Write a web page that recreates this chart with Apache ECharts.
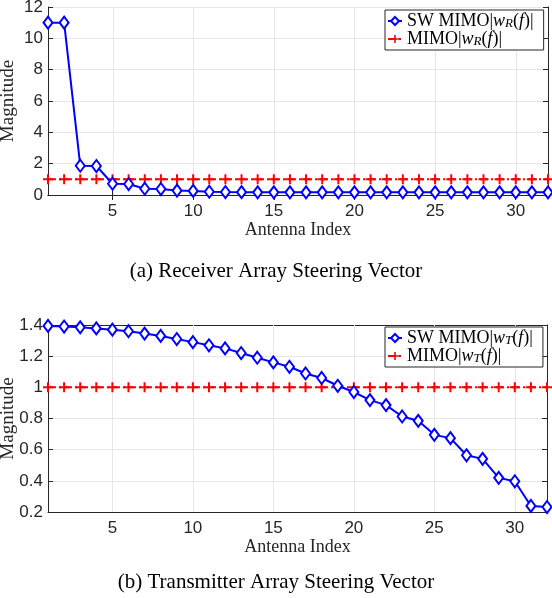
<!DOCTYPE html>
<html>
<head>
<meta charset="utf-8">
<script src="https://cdn.jsdelivr.net/npm/echarts@6/dist/echarts.min.js"></script>
<style>
html,body{margin:0;padding:0;background:#fff;}
#c{width:552px;height:598px;}
</style>
</head>
<body>
<div id="c"></div>
<script>
// ---- data ----
const antennaIndex = [1,2,3,4,5,6,7,8,9,10,11,12,13,14,15,16,17,18,19,20,21,22,23,24,25,26,27,28,29,30,31,32];
const rxSW   = [11.0,11.0,1.87,1.85,0.72,0.70,0.40,0.38,0.28,0.26,0.21,0.19,0.18,0.17,0.17,0.17,0.17,0.17,0.17,0.17,0.17,0.17,0.17,0.17,0.17,0.17,0.17,0.17,0.17,0.17,0.17,0.17];
const rxMIMO = [1,1,1,1,1,1,1,1,1,1,1,1,1,1,1,1,1,1,1,1,1,1,1,1,1,1,1,1,1,1,1,1];
const txSW   = [1.394,1.39,1.385,1.378,1.37,1.36,1.345,1.33,1.31,1.29,1.27,1.25,1.22,1.19,1.16,1.132,1.089,1.06,1.01,0.97,0.918,0.886,0.813,0.785,0.695,0.674,0.564,0.541,0.419,0.397,0.239,0.232];
const txMIMO = [1,1,1,1,1,1,1,1,1,1,1,1,1,1,1,1,1,1,1,1,1,1,1,1,1,1,1,1,1,1,1,1];
const xTicks = [5,10,15,20,25,30];
const captions = ['(a) Receiver Array Steering Vector', '(b) Transmitter Array Steering Vector'];
const names = ['SW MIMO|w_R(f)|', 'MIMO|w_R(f)|', 'SW MIMO|w_T(f)|', 'MIMO|w_T(f)|'];

const AX = '#262626';
const GRIDC = '#e6e6e6';
const SANS = 'Liberation Sans, Arial, sans-serif';
const SERIF = 'Liberation Serif, Times New Roman, serif';
const PLUS = 'path://M4,0H6V4H10V6H6V10H4V6H0V4H4Z';

function pairs(ys){ return antennaIndex.map((x,i)=>[x, ys[i]]); }

function xAxes(gi){
  return [
    { gridIndex: gi, type:'value', min:1, max:32, position:'bottom',
      axisLine:{show:true, lineStyle:{color:AX, width:1}},
      axisTick:{show:true, inside:true, length:5, customValues:xTicks, lineStyle:{color:AX}},
      axisLabel:{show:true, customValues:xTicks, color:AX, fontFamily:SANS, fontSize:17, margin:8},
      splitLine:{show:false},
      name:'Antenna Index', nameLocation:'middle', nameGap:26, nameMoveOverlap:false,
      nameTextStyle:{fontFamily:SERIF, fontSize:18, color:AX} },
    { gridIndex: gi, type:'value', min:1, max:32, position:'top',
      axisLine:{show:true, lineStyle:{color:AX, width:1}},
      axisTick:{show:true, inside:true, length:5, customValues:xTicks, lineStyle:{color:AX}},
      axisLabel:{show:false}, splitLine:{show:false} }
  ];
}
function yAxes(gi, mn, mx, iv){
  return [
    { gridIndex: gi, type:'value', min:mn, max:mx, interval:iv, position:'left',
      axisLine:{show:true, lineStyle:{color:AX, width:1}},
      axisTick:{show:true, inside:true, length:5, lineStyle:{color:AX}},
      axisLabel:{color:AX, fontFamily:SANS, fontSize:17, margin:5},
      splitLine:{show:true, lineStyle:{color:GRIDC, width:1}},
      name:'Magnitude', nameLocation:'middle', nameGap:30, nameMoveOverlap:false,
      nameTextStyle:{fontFamily:SERIF, fontSize:19, color:AX} },
    { gridIndex: gi, type:'value', min:mn, max:mx, interval:iv, position:'right',
      axisLine:{show:true, lineStyle:{color:AX, width:1}},
      axisTick:{show:true, inside:true, length:5, lineStyle:{color:AX}},
      axisLabel:{show:false}, splitLine:{show:false} }
  ];
}

function swSeries(name, xi, yi, ys){
  return { name, type:'line', xAxisIndex:xi, yAxisIndex:yi, data:pairs(ys),
    symbol:'emptyDiamond', symbolSize:[9,12], showAllSymbol:true, z:4,
    lineStyle:{color:'#0000ff', width:2},
    itemStyle:{color:'#0000ff', borderColor:'#0000ff', borderWidth:2},
    emphasis:{disabled:true} };
}
function mimoSeries(name, xi, yi, ys){
  return { name, type:'line', xAxisIndex:xi, yAxisIndex:yi, data:pairs(ys),
    symbol:PLUS, symbolSize:10, showAllSymbol:true, z:3,
    lineStyle:{color:'#ff0000', width:2, type:[8,3,2,3]},
    itemStyle:{color:'#ff0000'},
    emphasis:{disabled:true} };
}
// vertical grid lines at the x tick values
function vGrid(xi, yi, ymin, ymax){
  return { type:'custom', xAxisIndex:xi, yAxisIndex:yi, silent:true, z:1,
    data: xTicks.map(v=>[v]), encode:{x:0},
    renderItem:(params, api)=>{
      const x = api.value(0);
      const p0 = api.coord([x, ymin]);
      const p1 = api.coord([x, ymax]);
      const px = Math.round(p0[0]) + 0.5;
      return {type:'line', shape:{x1:px, y1:p0[1], x2:px, y2:p1[1]},
        style:{stroke:GRIDC, lineWidth:1}};
    } };
}

const rich = {
  i:{fontFamily:SERIF, fontSize:18, fontStyle:'italic', color:'#000', lineHeight:18},
  s:{fontFamily:SERIF, fontSize:13, fontStyle:'italic', color:'#000', lineHeight:11, verticalAlign:'bottom'},
  t:{fontFamily:SERIF, fontSize:18, color:'#000', lineHeight:18}
};
function legendFmt(name){
  const m = name.match(/^(.*)\|w_(\w)\(f\)\|$/);
  return '{t|' + m[1] + '|}{i|w}{s|' + m[2] + '}{t|(}{i|f}{t|)|}';
}
function legend(data, top){
  return { data, orient:'vertical', left:385, top, itemGap:0, itemWidth:14, itemHeight:10,
    padding:[2,10,2,2], backgroundColor:'#fff', borderColor:AX, borderWidth:1, borderRadius:0,
    selectedMode:false,
    formatter:legendFmt, textStyle:{fontFamily:SERIF, fontSize:18, color:'#000', lineHeight:18, rich} };
}

const chart = echarts.init(document.getElementById('c'), null, {renderer:'canvas'});
chart.setOption({
  animation:false,
  backgroundColor:'#fff',
  title:[
    {text:captions[0], left:'center', top:261, textStyle:{fontFamily:SERIF, fontSize:21, fontWeight:'normal', color:'#000'}, padding:0},
    {text:captions[1], left:'center', top:572, textStyle:{fontFamily:SERIF, fontSize:21, fontWeight:'normal', color:'#000'}, padding:0}
  ],
  grid:[
    {left:48, top:7, width:500, height:188, containLabel:false, outerBoundsMode:'none'},
    {left:48, top:325, width:499, height:187, containLabel:false, outerBoundsMode:'none'}
  ],
  xAxis:[...xAxes(0), ...xAxes(1)],
  yAxis:[...yAxes(0, 0, 12, 2), ...yAxes(1, 0.2, 1.4, 0.2)],
  legend:[ legend([names[0], names[1]], 10), legend([names[2], names[3]], 327) ],
  series:[
    vGrid(0, 0, 0, 12),
    vGrid(2, 2, 0.2, 1.4),
    swSeries(names[0], 0, 0, rxSW),
    mimoSeries(names[1], 0, 0, rxMIMO),
    swSeries(names[2], 2, 2, txSW),
    mimoSeries(names[3], 2, 2, txMIMO)
  ]
});
</script>
</body>
</html>
